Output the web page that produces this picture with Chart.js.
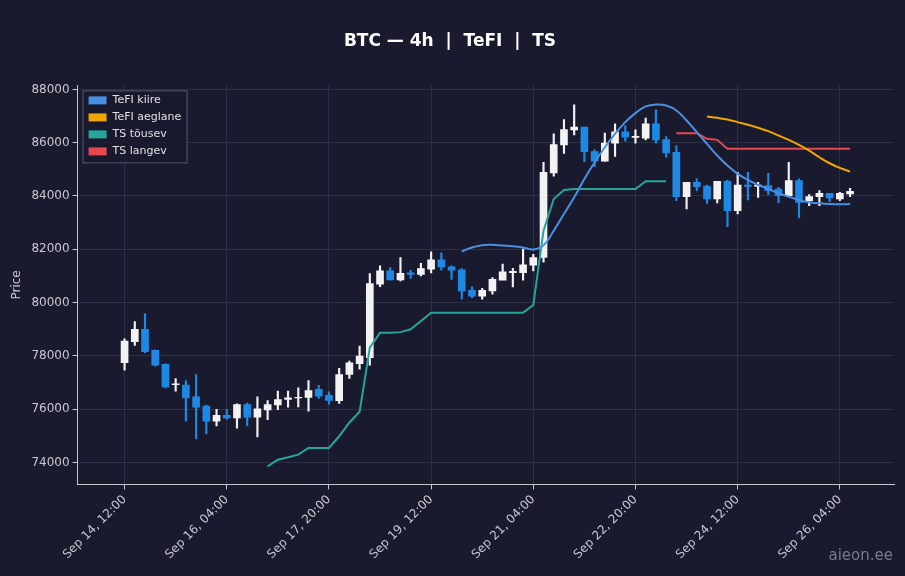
<!DOCTYPE html>
<html><head><meta charset="utf-8">
<script src="https://cdn.jsdelivr.net/npm/chart.js@4"></script>
<style>html,body{margin:0;background:#1a1a2e;}#w{width:905px;height:576px;position:relative}</style>
</head><body><div id="w"><canvas id="c"></canvas></div>
<script>
const startTime = Date.UTC(2024,8,14,12);
const opens  = [77740,78530,78994,78204,77677,76920,76900,76461,76110,75546,75771,75671,76173,75696,75973,76160,76360,76420,76440,76740,76520,76320,77300,77703,77929,80690,81189,80850,81120,81060,81250,81603,81340,81227,80462,80236,80437,80838,81120,81126,81400,81692,84865,85918,86482,86582,85667,85303,85980,86407,86200,86169,86708,86119,85642,83974,84513,84375,83887,84551,83448,84413,84363,84388,84262,84012,84576,83824,83974,84100,83887,84074];
const closes = [78555,78994,78154,77652,76837,76950,76424,76072,75546,75771,75671,76173,75696,76010,76173,76360,76423,76440,76700,76490,76330,77300,77740,77991,80713,81189,80850,81100,81060,81277,81603,81340,81214,80437,80236,80462,80876,81150,81170,81415,81690,84890,85931,86495,86582,85667,85303,85981,86407,86207,86240,86708,86106,85617,83974,84513,84350,83887,84551,83448,84413,84363,84413,84200,84012,84576,83760,83974,84100,83924,84100,84174];
const highs  = [78643,79282,79583,78229,77700,77150,77075,77301,76150,75990,75990,76200,76230,76460,76320,76680,76680,76800,77075,76890,76650,77530,77800,78368,81089,81380,81310,81690,81210,81470,81900,81870,81380,81277,80590,80530,80940,81440,81280,82010,81810,85266,86330,86870,87423,86582,85730,86357,86708,86645,86483,86920,87235,86230,85893,84513,84640,84413,84551,84601,84890,84890,84513,84852,84325,85266,84640,84050,84200,84100,84137,84287];
const lows   = [77464,78392,78116,77615,76800,76674,75546,74881,75069,75370,75610,75290,75370,74960,75600,75980,76070,76080,75920,76400,76190,76210,77150,77500,77650,80600,80850,80810,80910,81000,81110,81220,80870,80130,80180,80130,80310,81100,80590,80840,81190,81520,84740,85600,86294,85290,85100,85303,85480,86056,85980,86106,85980,85454,83824,83510,84200,83724,83736,82846,83322,83850,83950,84050,83749,83998,83172,83636,83636,83787,83824,83975];
const tefiFast = [null,null,null,null,null,null,null,null,null,null,null,null,null,null,null,null,null,null,null,null,null,null,null,null,null,null,null,null,null,null,null,null,null,81917,82067,82155,82167,82142,82117,82067,81992,82150,82696,83322,83950,84640,85266,85830,86332,86771,87110,87360,87435,87398,87210,86834,86395,85955,85517,85140,84827,84600,84413,84262,84100,83974,83849,83761,83723,83698,83686,83698];
const tefiSlow = [null,null,null,null,null,null,null,null,null,null,null,null,null,null,null,null,null,null,null,null,null,null,null,null,null,null,null,null,null,null,null,null,null,null,null,null,null,null,null,null,null,null,null,null,null,null,null,null,null,null,null,null,null,null,null,null,null,86984,86934,86871,86771,86670,86558,86432,86269,86106,85918,85705,85454,85228,85053,84915];
const tsUp = [null,null,null,null,null,null,null,null,null,null,null,null,null,null,73853,74104,74191,74291,74542,74542,74542,74981,75500,75900,78305,78870,78870,78890,78995,79308,79622,79622,79622,79622,79622,79622,79622,79622,79622,79622,79910,82696,83887,84225,84263,84263,84263,84263,84263,84263,84263,84551,84551,84551,null,null,null,null,null,null,null,null,null,null,null,null,null,null,null,null,null,null];
const tsDown = [null,null,null,null,null,null,null,null,null,null,null,null,null,null,null,null,null,null,null,null,null,null,null,null,null,null,null,null,null,null,null,null,null,null,null,null,null,null,null,null,null,null,null,null,null,null,null,null,null,null,null,null,null,null,86357,86357,86357,86144,86106,85768,85768,85768,85768,85768,85768,85768,85768,85768,85768,85768,85768,85768];
const xTickIdx = [0,10,20,30,40,50,60,70];
const yTicks = [74000,76000,78000,80000,82000,84000,86000,88000];
const seriesNames = ['TeFI kiire','TeFI aeglane','TS tõusev','TS langev'];
const seriesColors = ['#4a90e2','#f0a500','#26a69a','#e5484d'];
const UP='#f2f2f2', DOWN='#1e88e5';

const pad=n=>String(n).padStart(2,'0');
const mon=['Jan','Feb','Mar','Apr','May','Jun','Jul','Aug','Sep','Oct','Nov','Dec'];
function lab(i){const d=new Date(startTime+i*4*3600e3);return mon[d.getUTCMonth()]+' '+pad(d.getUTCDate())+', '+pad(d.getUTCHours())+':00';}

const n=opens.length;
const bodies=[],wicks=[],cols=[];
for(let i=0;i<n;i++){
  let o=opens[i],c=closes[i];
  if(Math.abs(o-c)<25){c=o+(c>=o?25:-25);}
  bodies.push({x:i,y:[o,c]});wicks.push({x:i,y:[lows[i],highs[i]]});
  cols.push(closes[i]>=opens[i]?UP:DOWN);
}
const lineDs=(d,k)=>({type:'line',label:seriesNames[k],data:d.map((v,i)=>({x:i,y:v})),borderColor:seriesColors[k],backgroundColor:seriesColors[k],borderWidth:2,pointRadius:0,tension:k<2?0.4:0,spanGaps:false,order:0});

const legendPlugin={id:'lg',afterDraw(ch){const ctx=ch.ctx,a=ch.chartArea;const x=a.left+5,y=a.top+5,w=104,h=72;
 ctx.save();ctx.fillStyle='rgba(26,26,46,0.85)';ctx.strokeStyle='#555a6a';ctx.lineWidth=1;ctx.fillRect(x,y,w,h);ctx.strokeRect(x+.5,y+.5,w,h);
 ctx.font='11px "DejaVu Sans"';ctx.textBaseline='middle';
 seriesNames.forEach((s,k)=>{const yy=y+10+k*17;ctx.fillStyle=seriesColors[k];ctx.fillRect(x+6,yy-4,18,8);ctx.fillStyle='#e0e0e0';ctx.fillText(s,x+30,yy);});
 ctx.restore();
 ctx.save();ctx.font='15px "DejaVu Sans"';ctx.fillStyle='#777a88';ctx.textAlign='right';ctx.fillText('aieon.ee',893,560);ctx.restore();
}};

new Chart(document.getElementById('c'),{
 data:{datasets:[
  lineDs(tefiFast,0),lineDs(tefiSlow,1),lineDs(tsUp,2),lineDs(tsDown,3),
  {type:'bar',label:'w',data:wicks,backgroundColor:cols,barThickness:1.5,grouped:false,order:2},
  {type:'bar',label:'b',data:bodies,backgroundColor:cols,barThickness:7,grouped:false,order:1}
 ]},
 options:{responsive:true,maintainAspectRatio:false,animation:false,
  layout:{padding:{left:6,right:11,top:17,bottom:11}},
  plugins:{legend:{display:false},tooltip:{enabled:false},
   title:{display:true,text:'BTC — 4h  |  TeFI  |  TS',color:'#ffffff',font:{family:'DejaVu Sans',size:17,weight:'bold'},padding:{top:14,bottom:34}}},
  scales:{
   x:{type:'linear',min:-4.6,max:75.3,offset:false,
    afterBuildTicks(ax){ax.ticks=xTickIdx.map(v=>({value:v}));},
    ticks:{color:'#c8c8d0',font:{family:'DejaVu Sans',size:12},maxRotation:45,minRotation:45,autoSkip:false,callback:v=>lab(v)},
    grid:{offset:false,color:'rgba(90,110,140,0.25)',drawTicks:true,tickColor:'#c8c8d0',tickLength:5},border:{color:'#c8c8d0'}},
   y:{min:73172,max:88150,
    afterBuildTicks(ax){ax.ticks=yTicks.map(v=>({value:v}));},
    ticks:{color:'#c8c8d0',font:{family:'DejaVu Sans',size:12},callback:v=>String(v)},
    title:{display:true,text:'Price',color:'#c8c8d0',font:{family:'DejaVu Sans',size:12}},
    grid:{color:'rgba(90,110,140,0.25)',tickColor:'#c8c8d0',tickLength:5},border:{color:'#c8c8d0'}}
  }},
 plugins:[legendPlugin]
});
</script></body></html>
